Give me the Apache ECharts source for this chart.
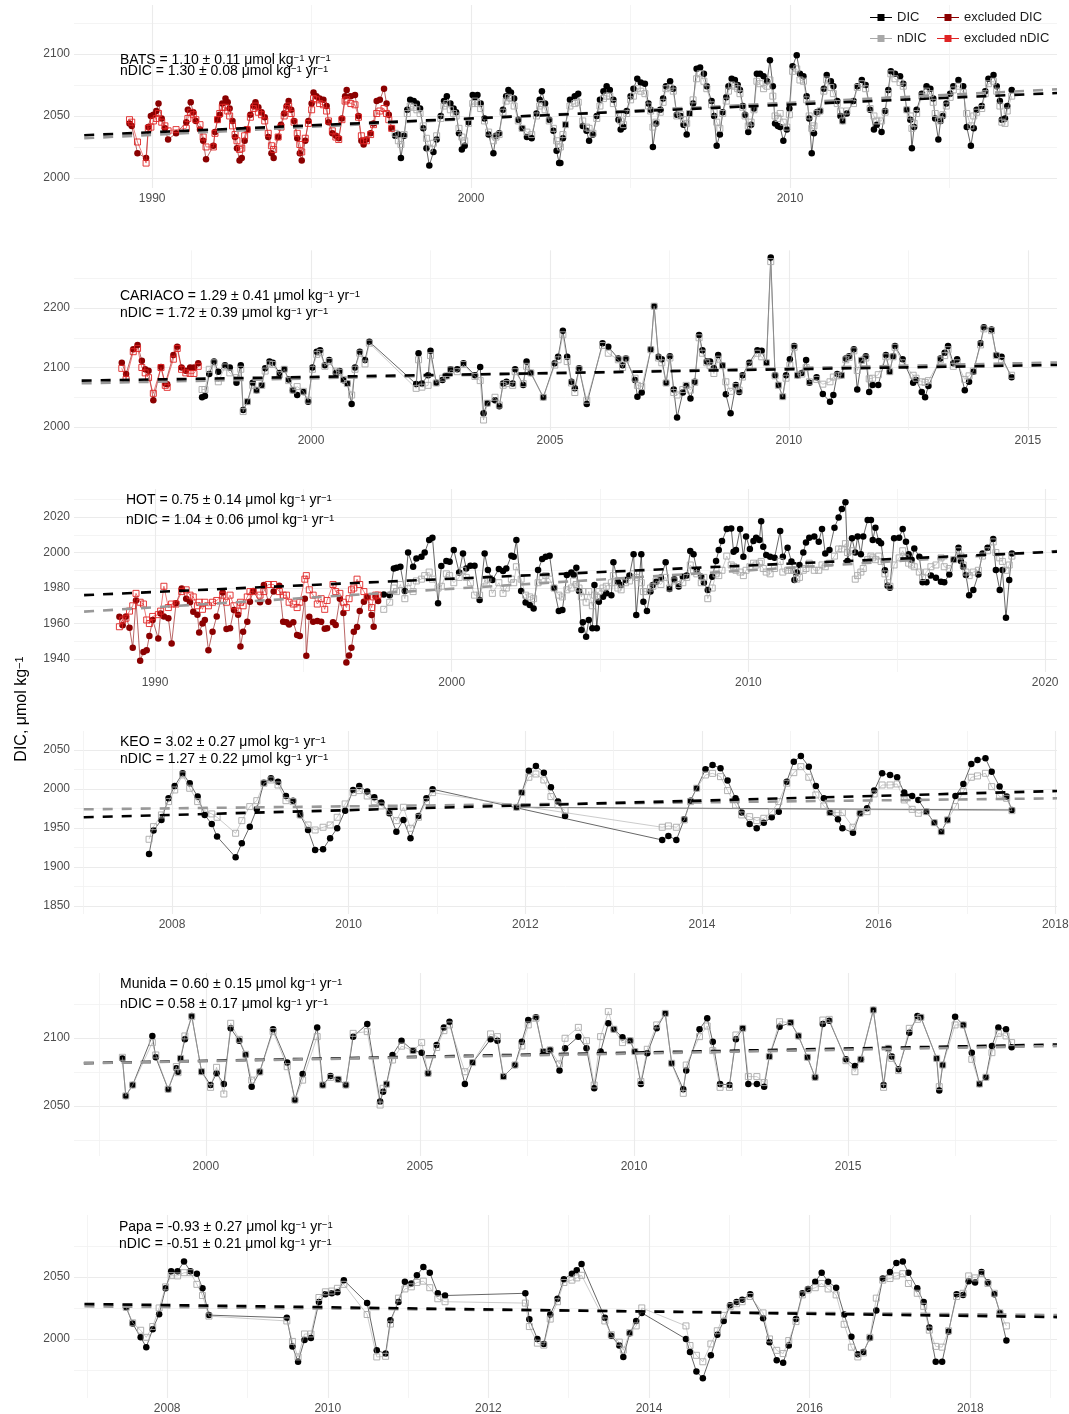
<!DOCTYPE html>
<html><head><meta charset="utf-8">
<script src="https://cdn.jsdelivr.net/npm/echarts@6/dist/echarts.min.js"></script>
<style>html,body{margin:0;padding:0;background:#fff}#c{width:1069px;height:1414px}</style>
</head><body><div id="c"></div>
<script>
// ---------- DATA: rows are [decimal year, DIC, nDIC] ----------
const batsExcluded = [
[1989.29,2044,2047],[1989.36,2042,2045],[1989.54,2020,2029],[1989.81,2016,2012],[1989.88,2041,2040],[1989.96,2050,2041],
[1990.04,2051,2046],[1990.13,2054,2048],[1990.20,2060,2052],[1990.30,2048,2045],[1990.40,2040,2042],[1990.50,2031,2038],[1990.75,2036,2039],
[1991.07,2045,2040],[1991.12,2055,2048],[1991.21,2061,2053],[1991.29,2053,2051],[1991.37,2046,2047],[1991.50,2039,2043],[1991.60,2030,2033],[1991.69,2015,2025],[1991.92,2026,2025],[1991.97,2037,2036],
[1992.05,2047,2047],[1992.12,2051,2052],[1992.20,2060,2057],[1992.30,2064,2057],[1992.37,2061,2054],[1992.43,2056,2050],[1992.52,2046,2042],[1992.60,2033,2035],[1992.66,2024,2030],[1992.74,2014,2023],[1992.81,2016,2024],[1992.90,2030,2034],[1992.98,2039,2039],
[1993.08,2051,2049],[1993.18,2058,2056],[1993.24,2061,2058],[1993.33,2057,2053],[1993.43,2053,2051],[1993.53,2049,2046],[1993.64,2033,2036],[1993.74,2020,2026],[1993.81,2016,2023],[1993.95,2033,2033],
[1994.04,2043,2041],[1994.14,2052,2050],[1994.22,2058,2056],[1994.28,2062,2058],[1994.36,2055,2052],[1994.45,2046,2045],[1994.55,2032,2036],[1994.63,2020,2027],[1994.69,2014,2021],[1994.80,2030,2032],[1994.90,2046,2044],
[1995.00,2060,2055],[1995.06,2069,2064],[1995.15,2066,2063],[1995.25,2064,2060],[1995.37,2063,2059],[1995.47,2058,2054],[1995.53,2045,2046],[1995.65,2036,2038],[1995.76,2034,2033],[1995.85,2032,2031],[1995.95,2048,2047],
[1996.05,2066,2062],[1996.10,2071,2063],[1996.23,2066,2060],[1996.36,2067,2059],[1996.47,2050,2049],[1996.56,2030,2034],[1996.63,2027,2030],[1996.72,2031,2030],[1996.85,2036,2035],[1996.94,2044,2043],
[1997.04,2062,2052],[1997.14,2063,2054],[1997.27,2072,2056],[1997.35,2060,2052],[1997.42,2051,2047],[1997.51,2040,2040]
];
const batsSeries = [
[1997.62,2034,2036],[1997.72,2035,2030],[1997.80,2016,2027],[1997.90,2034,2035],
[1998.00,2055,2052],[1998.09,2063,2058],[1998.20,2062,2057],[1998.30,2060,2055],[1998.40,2056,2052],[1998.50,2040,2042],[1998.60,2024,2032],[1998.69,2010,2024],[1998.82,2021,2028],[1998.92,2031,2034],
[1999.05,2050,2048],[1999.15,2062,2058],[1999.24,2066,2060],[1999.35,2060,2055],[1999.45,2056,2052],[1999.53,2053,2050],[1999.62,2036,2040],[1999.71,2023,2033],[1999.80,2026,2030],[1999.92,2045,2044],
[2000.05,2067,2060],[2000.12,2065,2062],[2000.20,2067,2060],[2000.30,2060,2056],[2000.42,2048,2046],[2000.55,2035,2037],[2000.70,2020,2030],[2000.78,2034,2033],[2000.88,2036,2035],
[2001.00,2055,2053],[2001.10,2066,2062],[2001.17,2071,2065],[2001.25,2069,2064],[2001.35,2064,2058],[2001.48,2047,2046],[2001.60,2040,2040],[2001.75,2033,2037],[2001.90,2032,2035],
[2002.05,2052,2050],[2002.15,2063,2058],[2002.22,2070,2060],[2002.32,2060,2055],[2002.45,2047,2046],[2002.58,2038,2040],[2002.68,2022,2030],[2002.76,2012,2027],[2002.80,2012,2025],[2002.88,2032,2035],[2002.96,2043,2043],
[2003.10,2063,2058],[2003.25,2066,2060],[2003.36,2068,2061],[2003.50,2042,2046],[2003.62,2038,2041],[2003.70,2030,2040],[2003.82,2035,2036],[2003.94,2050,2048],
[2004.04,2063,2058],[2004.15,2070,2064],[2004.25,2074,2066],[2004.35,2071,2066],[2004.46,2063,2060],[2004.62,2047,2052],[2004.69,2039,2046],[2004.78,2041,2043],[2004.88,2054,2052],
[2005.00,2066,2063],[2005.09,2072,2066],[2005.21,2080,2072],[2005.32,2077,2070],[2005.45,2076,2068],[2005.56,2060,2058],[2005.63,2055,2054],[2005.70,2025,2041],[2005.80,2044,2045],[2005.93,2055,2053],
[2006.02,2064,2061],[2006.11,2074,2072],[2006.24,2078,2073],[2006.34,2072,2070],[2006.45,2051,2050],[2006.57,2050,2051],[2006.66,2043,2047],[2006.76,2035,2044],[2006.85,2052,2052],[2006.96,2060,2063],
[2007.07,2088,2080],[2007.18,2089,2084],[2007.30,2084,2078],[2007.39,2074,2072],[2007.54,2062,2059],[2007.62,2050,2053],[2007.70,2026,2045],[2007.80,2035,2040],[2007.89,2053,2052],
[2008.00,2065,2062],[2008.07,2074,2070],[2008.17,2080,2075],[2008.27,2079,2074],[2008.36,2075,2072],[2008.43,2071,2068],[2008.52,2058,2057],[2008.59,2051,2050],[2008.69,2037,2042],[2008.78,2043,2045],[2008.87,2056,2055],[2008.96,2084,2078],
[2009.06,2084,2076],[2009.17,2082,2072],[2009.28,2078,2074],[2009.37,2095,2079],[2009.46,2074,2066],[2009.53,2044,2050],[2009.62,2042,2048],[2009.69,2041,2052],[2009.79,2030,2045],[2009.90,2039,2041],[2009.98,2056,2051],
[2010.08,2090,2086],[2010.21,2099,2088],[2010.31,2084,2079],[2010.42,2082,2078],[2010.52,2066,2063],[2010.60,2048,2050],[2010.68,2020,2040],[2010.75,2036,2042],[2010.84,2053,2052],[2010.94,2054,2054],
[2011.06,2072,2070],[2011.15,2083,2079],[2011.28,2078,2073],[2011.36,2074,2068],[2011.48,2062,2060],[2011.58,2050,2054],[2011.65,2046,2046],[2011.78,2052,2054],[2011.99,2062,2060],
[2012.11,2074,2073],[2012.25,2079,2076],[2012.37,2075,2072],[2012.51,2055,2056],[2012.63,2039,2050],[2012.72,2043,2046],[2012.87,2037,2046],[2012.98,2054,2053],
[2013.08,2071,2068],[2013.16,2086,2084],[2013.29,2084,2080],[2013.45,2082,2077],[2013.55,2076,2074],[2013.66,2055,2055],[2013.77,2047,2050],[2013.82,2024,2040],[2013.89,2041,2044],[2013.97,2055,2052],
[2014.13,2068,2066],[2014.28,2074,2070],[2014.40,2072,2068],[2014.49,2064,2061],[2014.55,2048,2052],[2014.65,2031,2046],[2014.72,2046,2047],[2014.79,2050,2051],[2014.90,2060,2058],
[2015.02,2068,2065],[2015.12,2074,2071],[2015.28,2079,2074],[2015.43,2074,2069],[2015.54,2041,2052],[2015.67,2026,2042],[2015.76,2040,2050],[2015.85,2055,2053],
[2016.01,2058,2056],[2016.12,2070,2068],[2016.22,2080,2076],[2016.38,2083,2078],[2016.48,2074,2070],[2016.58,2062,2058],[2016.64,2047,2045],[2016.74,2048,2044],[2016.81,2058,2054],[2016.95,2071,2066]
];
const batsTrend = [[1987.87,2034.5,2032],[2018.37,2068.5,2071.5]];

const cariacoExcluded = [
[1996.04,2108,2098.6],[1996.13,2089,2080],[1996.28,2130.5,2126.6],[1996.37,2137.8,2132],[1996.46,2111.5,2100],[1996.53,2097,2091],[1996.60,2094.7,2083],[1996.70,2045,2056.6],[1996.86,2101,2100],[1996.95,2073,2070],[1996.99,2072,2066.7],
[1997.12,2121,2114],[1997.20,2135,2132],[1997.29,2100,2097],[1997.38,2094.7,2091],[1997.47,2100,2090],[1997.55,2100,2090],[1997.64,2107,2102]
];
const cariacoSeries = [
[1997.72,2050,2063],[1997.78,2052,2063],[1997.87,2089,2097],[1997.97,2110,2108],[1998.06,2093,2076],[1998.20,2104,2101],[1998.30,2100,2091],[1998.44,2074.5,2083],[1998.53,2104,2097],[1998.58,2028.6,2026],[1998.67,2042.6,2042.6],[1998.78,2074.5,2070],[1998.86,2062,2062],[1998.97,2070.6,2070],
[1999.04,2098.6,2094],[1999.13,2110,2106],[1999.20,2108,2105],[1999.34,2091,2088],[1999.44,2097,2097],[1999.53,2080,2078],[1999.62,2062,2062],[1999.71,2054,2068],[1999.84,2059,2060],[1999.94,2042.6,2045],
[2000.03,2100,2097],[2000.12,2126.6,2122],[2000.19,2129,2125],[2000.29,2104,2102],[2000.38,2112.6,2110],[2000.52,2091,2094],[2000.60,2094,2092],[2000.68,2078.4,2080],[2000.76,2073,2073],[2000.85,2038.7,2053.8],[2000.92,2100,2097],
[2001.02,2126.6,2124],[2001.13,2112.6,2106],[2001.22,2143.4,2141],
[2002.20,2072.3,2065],[2002.25,2124,2113],[2002.32,2073,2067],[2002.45,2087,2070],[2002.50,2128,2120],[2002.62,2074.5,2074],[2002.75,2079,2082],[2002.84,2085.7,2086],[2002.92,2097,2096],
[2003.06,2097,2093],[2003.19,2107,2105],[2003.43,2087,2085],[2003.54,2101,2078],[2003.61,2023,2011.8],[2003.69,2040,2040],[2003.85,2045,2050],[2003.94,2035,2037],
[2004.02,2073,2070],[2004.09,2076,2073],[2004.22,2073,2070],[2004.27,2097,2093],[2004.44,2070.6,2073],[2004.51,2110,2102],[2004.60,2091,2091],[2004.86,2050,2050],
[2005.10,2107,2104],[2005.17,2118,2113],[2005.27,2162,2155],[2005.36,2118,2110],[2005.45,2076,2074],[2005.52,2065,2058],[2005.61,2098.6,2097],[2005.77,2038.7,2045],
[2006.10,2140.6,2137],[2006.22,2135,2124],[2006.43,2115,2113],[2006.52,2104,2100],[2006.59,2115,2114],[2006.78,2079,2082],[2006.83,2051,2070],[2006.92,2058,2068],
[2007.11,2130.5,2130],[2007.18,2203,2203],[2007.27,2118,2116],[2007.34,2113.7,2108],[2007.43,2074.5,2074],[2007.51,2119,2116],[2007.59,2063,2058],[2007.66,2016,2053.8],[2007.78,2058,2063],[2007.85,2069,2070],[2007.94,2048,2062],
[2008.03,2076,2075],[2008.12,2154.6,2150],[2008.19,2129,2124],[2008.28,2110,2108],[2008.35,2110,2103],[2008.43,2098.6,2090],[2008.52,2121,2114],[2008.61,2104,2103],[2008.68,2055,2076],[2008.78,2023,2060],[2008.89,2070.6,2068],[2008.96,2059,2062],
[2009.03,2087,2084],[2009.17,2108,2104],[2009.34,2129,2124],[2009.43,2128,2118],[2009.53,2108,2108],[2009.62,2285,2278],[2009.71,2087,2086],[2009.78,2070.6,2070],[2009.87,2051,2051],[2009.94,2087,2082],
[2010.02,2113.7,2104],[2010.11,2136,2134],[2010.18,2087,2087],[2010.27,2091,2089],[2010.36,2112.6,2100],[2010.43,2074.5,2076],[2010.58,2083.5,2080],[2010.71,2055.5,2072],[2010.86,2042.6,2076],[2010.93,2054,2084],
[2011.01,2089,2086],[2011.10,2087,2087],[2011.19,2115,2113],[2011.26,2119,2117],[2011.36,2130.5,2128],[2011.43,2063,2095],[2011.52,2112.6,2112],[2011.61,2119,2116],[2011.68,2059,2081],[2011.75,2070.6,2082],[2011.87,2070.6,2088],
[2012.03,2121,2118],[2012.11,2093,2093],[2012.18,2119,2118],[2012.22,2136,2134],[2012.38,2113.7,2108],[2012.60,2074.5,2087],[2012.66,2079,2082],[2012.78,2059,2076],[2012.85,2050,2075],[2012.92,2069,2078],
[2013.17,2115,2113],[2013.26,2125,2120],[2013.33,2136,2130],[2013.44,2107,2102],[2013.52,2113.7,2108],[2013.68,2062,2080],[2013.77,2076,2086],[2013.86,2093,2094],
[2014.01,2140.6,2138],[2014.08,2167.5,2165],[2014.24,2164,2162],[2014.34,2121,2120],[2014.45,2118,2112],[2014.66,2083.5,2087]
];
const cariacoTrend = [[1995.20,2078,2073.5],[2015.61,2104.3,2108.5]];

const hotExcluded = [
[1988.80,1963.8,1958.2],[1988.91,1959.0,1962],[1989.02,1964.0,1963],[1989.14,1957.6,1967],[1989.25,1946.4,1970],[1989.36,1973.0,1977],[1989.50,1939.0,1972],[1989.61,1944.0,1971],[1989.72,1945.0,1962],[1989.81,1953.0,1960],[1989.92,1962.0,1964],
[1990.11,1951.6,1965],[1990.19,1965.7,1967],[1990.30,1964.0,1981],[1990.45,1963.0,1969],[1990.56,1948.8,1971],[1990.71,1971.4,1971],[1990.90,1979.8,1978],
[1991.05,1974.0,1979],[1991.18,1972.0,1976],[1991.29,1966.7,1975],[1991.43,1965.0,1970],[1991.49,1955.0,1972],[1991.60,1960.0,1968],[1991.68,1962.0,1972],[1991.80,1945.0,1970],[1991.94,1955.4,1972],
[1992.08,1964.0,1973],[1992.28,1977.5,1976],[1992.41,1956.9,1972],[1992.53,1957.3,1976],[1992.66,1967.6,1970],[1992.80,1965.0,1967],[1992.88,1947.0,1972],[1992.97,1955.4,1970],
[1993.11,1961.0,1975],[1993.20,1972.3,1978],[1993.31,1978.3,1978],[1993.54,1972.0,1976],[1993.67,1981.7,1978],[1993.82,1972.3,1982],
[1994.00,1978.0,1982],[1994.19,1981.3,1978],[1994.32,1961.0,1976],[1994.43,1960.7,1976],[1994.52,1959.5,1972],[1994.66,1960.7,1971],[1994.79,1953.5,1969],[1994.88,1953.0,1972],
[1995.05,1974.0,1985],[1995.10,1941.9,1987],[1995.20,1963.8,1979],[1995.33,1961.0,1976],[1995.47,1961.4,1971],[1995.60,1961.0,1974],[1995.72,1957.0,1968],[1995.80,1957.3,1973],
[1996.00,1960.7,1982],[1996.09,1959.2,1978],[1996.23,1974.0,1977],[1996.35,1966.0,1972],[1996.45,1938.0,1969],[1996.54,1942.0,1974],[1996.62,1946.4,1979],[1996.70,1955.4,1980],[1996.81,1958.0,1985],[1996.90,1967.0,1982],
[1997.04,1972.3,1978],[1997.15,1975.0,1975],[1997.30,1964.8,1969],[1997.37,1958.2,1975],[1997.44,1975.1,1976],[1997.52,1972.7,1976]
];
const hotSeries = [
[1997.71,1976.4,1968],[1997.91,1976.0,1972],[1998.05,1991.0,1980],[1998.14,1991.5,1978],[1998.27,1992.0,1982],[1998.42,1978.3,1974],[1998.53,2000.0,1983],[1998.70,1992.0,1978],[1998.81,1996.7,1984],[1998.98,1997.7,1985],
[1999.09,2000.0,1987],[1999.24,2007.0,1989],[1999.35,2008.4,1985],[1999.54,1971.4,1980],[1999.65,1992.4,1981],[1999.82,1995.2,1988],[1999.93,1994.8,1987],
[2000.07,2001.4,1983],[2000.25,1988.8,1986],[2000.38,1999.5,1990],[2000.49,1991.0,1986],[2000.63,1992.6,1983],[2000.77,1992.6,1976],[2000.94,1973.2,1976],
[2001.11,1999.5,1984],[2001.22,1990.1,1985],[2001.37,1984.5,1977],[2001.59,1990.7,1983],[2001.73,1989.6,1977],[2001.84,1991.0,1980],
[2002.01,1998.2,1985],[2002.09,1997.7,1983],[2002.18,2007.0,1992],[2002.34,1978.3,1985],[2002.49,1971.9,1976],[2002.63,1970.4,1975],[2002.76,1968.5,1974],[2002.91,1990.1,1983],
[2003.05,1996.3,1985],[2003.17,1997.7,1987],[2003.30,1998.2,1985],[2003.45,1980.0,1980],[2003.61,1967.0,1976],[2003.73,1967.6,1975],[2003.88,1987.3,1979],
[2004.03,1988.8,1980],[2004.11,1987.3,1984],[2004.20,1991.5,1982],[2004.29,1978.3,1980],[2004.37,1956.3,1975],[2004.42,1960.7,1978],[2004.53,1952.6,1972],[2004.62,1962.0,1978],[2004.74,1957.3,1970],[2004.81,1981.7,1976],[2004.89,1957.3,1975],[2004.96,1972.3,1978],
[2005.10,1975.1,1980],[2005.21,1977.0,1981],[2005.38,1976.0,1983],[2005.45,1994.5,1987],[2005.60,1983.6,1980],[2005.71,1981.7,1979],[2005.86,1984.5,1983],[2005.99,1987.0,1984],
[2006.13,1999.0,1988],[2006.22,1964.8,1986],[2006.39,1999.0,1983],[2006.46,1972.3,1978],[2006.58,1967.0,1978],[2006.70,1978.0,1980],[2006.78,1981.7,1981],[2006.89,1983.6,1984],
[2007.05,1986.0,1982],[2007.21,1994.5,1986],[2007.34,1979.4,1980],[2007.50,1985.0,1984],[2007.65,1980.8,1982],[2007.79,1986.4,1983],[2007.92,1987.0,1986],
[2008.04,2000.8,1993],[2008.15,1999.0,1990],[2008.26,1990.1,1988],[2008.41,1986.4,1983],[2008.50,1983.0,1986],[2008.63,1978.9,1974],[2008.78,1986.4,1980],[2008.91,1995.2,1988],
[2009.00,2001.4,1987],[2009.11,2006.5,1990],[2009.27,2013.2,1998],[2009.42,2013.6,1993],[2009.50,2000.5,1992],[2009.58,2001.4,1990],[2009.72,2013.2,1989],[2009.83,1997.7,1987],[2009.92,2009.0,1990],
[2010.05,2002.0,1992],[2010.17,2006.5,1994],[2010.26,2008.4,1993],[2010.37,2007.0,1994],[2010.43,2017.7,1995],[2010.50,2003.3,1991],[2010.60,1998.6,1989],[2010.73,1997.7,1988],[2010.88,1997.0,1991],
[2011.07,2012.1,1995],[2011.16,1997.7,1989],[2011.32,2002.7,1990],[2011.45,1995.0,1990],[2011.55,1984.5,1990],[2011.63,1988.8,1985],[2011.72,1993.0,1986],[2011.85,2000.0,1990],[2011.94,2005.7,1991],
[2012.05,2008.4,1994],[2012.22,2009.0,1990],[2012.37,2006.1,1990],[2012.48,2013.2,1993],[2012.59,1999.5,1992],[2012.73,2001.4,1994],[2012.90,2014.0,1998],
[2013.04,2019.8,2002],[2013.15,2024.5,2002],[2013.27,2028.3,2005],[2013.34,1995.2,2000],[2013.49,2008.0,2001],[2013.60,2000.0,1985],[2013.68,2009.0,1987],[2013.79,1999.0,1989],[2013.87,2009.0,1991],
[2014.02,2018.3,1996],[2014.13,2018.3,1998],[2014.19,2007.0,1997],[2014.28,2014.0,1996],[2014.39,2006.5,1998],[2014.47,2005.2,1995],[2014.60,1990.0,1988],[2014.69,1981.3,1983],[2014.77,1980.2,1981],[2014.91,2008.0,1993],
[2015.08,2008.4,1997],[2015.20,2013.2,2001],[2015.31,2006.1,1997],[2015.40,1999.0,1994],[2015.50,1996.0,1993],[2015.59,2002.3,1992],[2015.76,1997.7,1989],[2015.87,1983.2,1986],
[2016.00,1983.2,1989],[2016.15,1987.0,1992],[2016.32,1985.8,1993],[2016.49,1983.6,1997],[2016.60,1983.2,1992],[2016.77,1987.7,1991],[2016.92,1996.0,1996],
[2017.08,2002.7,2001],[2017.16,1995.2,1998],[2017.24,1992.0,1993],[2017.33,1987.3,1989],[2017.44,1976.0,1987],[2017.58,1978.9,1989],[2017.75,1987.7,1990],[2017.89,1999.5,1998],
[2018.06,2002.7,2001],[2018.25,2007.6,2006],[2018.34,1990.1,2000],[2018.47,1978.9,1997],[2018.56,1990.1,1995],[2018.68,1963.3,1990],[2018.79,1984.5,1993],[2018.88,1999.5,1998]
];
const hotTrend = [[1987.61,1976,1966.7],[2020.40,2000.5,2000.8]];

// KEO rows are in the sampling order used by the original path
const keoSeries = [
[2007.74,1916.7,1935.5],[2007.79,1946.6,1951.7],[2007.88,1960.3,1966.7],[2007.96,1988,1983.8],[2008.03,2003.8,1998.7],[2008.12,2020,2018],[2008.20,2007.3,2000.9],[2008.29,1990.2,1983.8],[2008.37,1966.7,1972.2],[2008.45,1955,1968],[2008.51,1938.9,1963.7],
[2008.72,1912.4,1943.2],[2008.79,1930.3,1959.4],[2008.88,1951.7,1977.4],[2008.96,1974.4,1985],[2009.04,2008.1,2007.3],[2009.12,2013.7,2011.5],[2009.20,2009.4,2005.1],[2009.29,1991,1985],[2009.37,1985,1983.8],[2009.45,1966.7,1966.7],
[2009.54,1947.4,1953.8],[2009.62,1921.8,1947.4],[2009.71,1922.6,1950.9],[2009.79,1936.8,1953.8],[2009.87,1949.6,1963.7],[2009.96,1972.2,1980.8],[2010.05,1998.7,1995.3],[2010.12,2003.8,1997.9],[2010.21,1996.6,1991],[2010.29,1989.3,1983.8],
[2010.37,1982.5,1978.2],[2010.46,1968.8,1970.9],[2010.54,1945.3,1959.4],[2010.62,1960.3,1976.5],[2010.70,1936.8,1949.6],[2010.79,1965.4,1963.7],[2010.88,1988,1983.8],[2010.95,1999.6,1995.3],
[2013.55,1934.6,1950.9],[2013.62,1939.7,1952.6],[2013.71,1934.6,1950.9],[2013.80,1961.1,1960.3],[2013.87,1985,1983.8],[2013.94,2000.9,2000.9],[2014.04,2025.2,2017.9],[2014.12,2030.8,2020],[2014.21,2026.5,2015.8],[2014.29,2010.7,1997.9],
[2014.38,1988,1979.5],[2014.45,1969.7,1966.7],[2014.54,1955.1,1964.5],[2014.62,1949.6,1959.4],[2014.70,1956.8,1962.4],[2014.79,1963.7,1970.9],[2014.87,1970.9,1983.8],[2014.96,2009.4,2007.3],[2015.04,2035,2020.9],[2015.12,2042.3,2028.6],
[2015.21,2028.6,2015],[2015.29,2003.8,1992.3],[2015.38,1988,1978.2],[2015.45,1969.7,1969.7],[2015.54,1961.1,1969.7],[2015.59,1949.6,1969.7],[2015.71,1944,1950.9],[2015.79,1968.8,1968.8],[2015.87,1975.2,1970.9],[2015.95,1997.9,1993.6],
[2016.04,2020.1,2005.1],[2016.13,2017.9,2005.1],[2016.21,2015,2006.4],[2016.29,1995.3,1985.9],[2016.38,1991,1973.9],[2016.45,1985.9,1968.8],[2016.54,1970.9,1970.9],[2016.63,1956.8,1956.8],[2016.71,1945.3,1945.3],[2016.78,1960.3,1960.3],
[2016.87,1991,1977.4],[2016.96,2006.4,1996.6],[2017.05,2032.1,2015],[2017.12,2037.2,2016.7],[2017.21,2039.3,2020.1],[2017.28,2022.2,2003],[2017.37,2003,1990.2],[2017.45,1990.2,1988],[2017.51,1973.1,1972.2],
[2011.90,1976.5,1976.5],[2011.96,1995.3,1995.3],[2012.04,2023.5,2015],[2012.12,2029.5,2019.2],[2012.21,2020.9,2011.5],[2012.29,2002.1,1990.2],[2012.37,1983.8,1979.5],[2012.45,1965.4,1972.2]
];
const keoTrend = [[2007.00,1963.7,1973.9],[2018.02,1997.4,1988]];

const munidaSeries = [
[1998.05,2085,2085.8],[1998.13,2057.4,2057.4],[1998.29,2065.4,2065.4],[1998.75,2101.5,2096.6],[1998.83,2085.8,2087.5],[1999.12,2062.3,2062.3],[1999.31,2077.7,2079],[1999.35,2075.2,2074.5],[1999.41,2085,2085],[1999.51,2099,2101.5],[1999.67,2116.2,2115.7],[1999.90,2075.2,2075.2],
[2000.11,2065.4,2063.7],[2000.25,2074,2078.4],[2000.42,2066.2,2058.8],[2000.58,2107.1,2110.8],[2000.78,2098,2099],[2000.93,2087.5,2088],[2001.07,2064.2,2069],[2001.26,2075.2,2075],[2001.57,2106.4,2104.7],[2001.90,2081.9,2078.9],
[2002.08,2054.4,2054.4],[2002.26,2073.5,2069],[2002.60,2107.8,2101],[2002.73,2065.4,2065.4],[2002.91,2072.1,2071],[2003.09,2069.6,2069.6],[2003.27,2065.4,2065.4],[2003.44,2101,2103.4],[2003.77,2110.3,2104.7],
[2004.07,2053.2,2050.7],[2004.14,2060.5,2063],[2004.22,2066.2,2066],[2004.36,2087.5,2083.8],[2004.57,2098,2094],[2004.84,2090.7,2090.7],[2005.04,2089.2,2096.6],[2005.19,2074,2074],[2005.39,2094.9,2093],[2005.56,2107.8,2105.4],[2005.69,2112,2109.6],
[2006.05,2066.2,2075.2],[2006.23,2081.9,2081.9],[2006.65,2099,2103],[2006.81,2098,2101],[2006.95,2071.6,2071.6],[2007.22,2080.1,2080.1],[2007.38,2097.3,2094.1],[2007.53,2113.2,2109.6],[2007.71,2115.2,2114.5],[2007.88,2090,2090],
[2008.04,2091.2,2091.2],[2008.26,2076,2080.9],[2008.39,2092.4,2099.8],[2008.70,2101,2107.8],[2008.89,2092.4,2098],[2009.07,2063,2065.4],[2009.22,2090,2101],[2009.40,2110.8,2119.4],[2009.53,2106.4,2106.4],[2009.73,2100.5,2096.6],[2009.91,2098,2098],
[2010.02,2090,2090],[2010.16,2066.2,2068],[2010.31,2088.7,2091.7],[2010.53,2107.1,2109.6],[2010.73,2118.1,2118.1],[2010.88,2081.4,2081.4],[2011.15,2062.3,2059.3],[2011.22,2076,2080.1],[2011.53,2106.4,2101],[2011.71,2114.5,2108.8],[2011.84,2097.3,2090.7],
[2012.01,2066.2,2063.7],[2012.23,2065.4,2063.7],[2012.38,2099,2102.2],[2012.54,2107.1,2107.1],[2012.67,2066.2,2071.6],[2012.87,2066.2,2071.6],[2013.04,2064.2,2067.2],[2013.16,2086.3,2086.3],[2013.40,2108.3,2112],[2013.66,2111.3,2111.3],[2013.84,2101.5,2101.5],
[2014.05,2085.8,2085.8],[2014.23,2071.1,2071.1],[2014.41,2110.3,2113.2],[2014.56,2112.7,2113.7],[2014.95,2084.3,2083.3],[2015.16,2079.4,2075.2],[2015.30,2084.3,2084.3],[2015.59,2120.6,2120.6],[2015.83,2065.4,2063.7],[2015.94,2092.4,2092.4],
[2016.02,2086.3,2085],[2016.18,2077,2076],[2016.43,2103.9,2107.1],[2016.62,2116.2,2113.7],[2016.70,2115.2,2115.2],[2017.07,2085,2085],[2017.13,2061.3,2064.2],[2017.21,2080.1,2080.1],[2017.50,2115.7,2109.6],[2017.69,2109.6,2109.6],[2017.89,2089.2,2084.3],
[2018.07,2066.2,2066.2],[2018.22,2071.1,2071.1],[2018.36,2094.1,2089.2],[2018.51,2107.8,2103.4],[2018.69,2106.4,2101.5],[2018.82,2093.1,2096.6]
];
const munidaTrend = [[1997.15,2081.5,2081.4],[2019.88,2095.2,2094.1]];

const papaSeries = [
[2007.49,2025.5,2025.5],[2007.57,2012.4,2013],[2007.67,2001.3,2007],[2007.74,1993.4,2001.3],[2007.82,2007.9,2010],[2007.90,2020.0,2025],[2007.98,2040.8,2042],[2008.05,2054.5,2051],[2008.13,2054.5,2050.8],[2008.21,2062.4,2053.4],[2008.29,2054.5,2053.4],[2008.37,2052.6,2044],[2008.44,2040.8,2035],[2008.52,2019.2,2018.4],
[2009.49,2017.1,2014.5],[2009.56,1993.9,1998],[2009.63,1981.6,1985.5],[2009.71,1999.2,2004],[2009.79,2000.8,2004],[2009.89,2029.7,2033.4],[2009.97,2036,2038],[2010.05,2036.8,2038.6],[2010.12,2037.6,2040.8],[2010.20,2047.4,2044],
[2010.49,2028.9,2019.7],[2010.61,1990.8,1985.5],[2010.72,1988.2,1986],[2010.78,2015,2012],[2010.88,2029.7,2032.9],[2010.96,2046,2040.3],[2011.04,2044.7,2042],[2011.11,2051.3,2045.5],[2011.19,2057.9,2046.6],[2011.27,2053.4,2041.3],[2011.37,2036.8,2032.4],[2011.46,2035,2030],
[2012.46,2036.8,2028.9],[2012.51,2015.8,2010],[2012.61,2000,1996.6],[2012.69,1996,1995],[2012.77,2019.7,2016],[2012.86,2032.4,2030],[2012.94,2048.2,2045.5],[2013.04,2052.6,2047.4],[2013.10,2055.3,2049.2],[2013.16,2060.5,2051.3],
[2013.45,2017.1,2014.5],[2013.53,2002.6,2003.4],[2013.63,1994.7,1997.4],[2013.68,1985.5,1991],[2013.76,2004.5,2005],[2013.84,2014.5,2010.5],[2013.91,2021,2025],
[2014.46,2000,2010.5],[2014.51,1989.5,1994.7],[2014.59,1973.7,1986.8],[2014.67,1968.4,1981.6],[2014.77,1986.8,1996],[2014.85,2003.4,2006.6],[2014.93,2014.5,2019],[2015.01,2027.1,2026],[2015.09,2029.7,2028.4],[2015.16,2031.6,2030],[2015.26,2036,2034.2],
[2015.42,2016.6,2021],[2015.50,1997.4,2000],[2015.59,1982.9,1990.8],[2015.67,1980.8,1988.2],[2015.74,1994.7,1998.7],[2015.83,2016,2014],[2015.91,2036.8,2035.5],[2015.98,2040.3,2039.5],[2016.07,2046.1,2041.3],[2016.15,2053.4,2044.7],[2016.23,2046.1,2040.3],[2016.33,2041.3,2035.5],
[2016.43,2019.7,2011.8],[2016.52,2001.8,1993.4],[2016.60,1987.6,1985.5],[2016.67,1989.5,1988.7],[2016.75,2000.8,2001.3],[2016.83,2022.9,2032.9],[2016.91,2048.7,2047.4],[2017.00,2053.9,2048.7],[2017.08,2061.3,2050.8],[2017.16,2062.4,2052.6],[2017.23,2053.4,2044.7],[2017.34,2040.8,2036.8],
[2017.42,2029.7,2026.3],[2017.49,2009.2,2007.1],[2017.57,1981.6,1994],[2017.65,1981.6,1993.4],[2017.73,2006,2006.6],[2017.83,2036,2034.2],[2017.91,2035.5,2036.8],[2017.98,2046.6,2050.8],[2018.06,2045.5,2049.2],[2018.14,2053.9,2052.6],[2018.22,2045.5,2044.7],[2018.30,2036,2036.8],[2018.37,2021,2021],[2018.45,1998.7,2010.5]
];
const papaTrend = [[2006.97,2028.2,2026.3],[2019.08,2017.6,2019.2]];

// axis ranges / tick steps per panel (x range, x step, y range, y step)
const xRanges = [[1987.55,2018.37],[1995.04,2015.61],[1987.27,2020.40],[2006.89,2018.02],[1996.92,2019.88],[2006.84,2019.08]];
const xSteps = [10,5,10,2,5,2];
const yRanges = [[1991.9,2139.5],[1995.0,2297.0],[1932.7,2035.8],[1839.7,2074.3],[2013.2,2147.8],[1952.4,2099.9]];
const ySteps = [50,100,20,50,50,50];

const annotations = [
 ['BATS = 1.10 ± 0.11 μmol kg{s|−1} yr{s|−1}','nDIC = 1.30 ± 0.08 μmol kg{s|−1} yr{s|−1}'],
 ['CARIACO = 1.29 ± 0.41 μmol kg{s|−1} yr{s|−1}','nDIC = 1.72 ± 0.39 μmol kg{s|−1} yr{s|−1}'],
 ['HOT = 0.75 ± 0.14 μmol kg{s|−1} yr{s|−1}','nDIC = 1.04 ± 0.06 μmol kg{s|−1} yr{s|−1}'],
 ['KEO = 3.02 ± 0.27 μmol kg{s|−1} yr{s|−1}','nDIC = 1.27 ± 0.22 μmol kg{s|−1} yr{s|−1}'],
 ['Munida = 0.60 ± 0.15 μmol kg{s|−1} yr{s|−1}','nDIC = 0.58 ± 0.17 μmol kg{s|−1} yr{s|−1}'],
 ['Papa = -0.93 ± 0.27 μmol kg{s|−1} yr{s|−1}','nDIC = -0.51 ± 0.21 μmol kg{s|−1} yr{s|−1}']
];

// ---------- BUILD ----------
const FONT = '"Liberation Sans", Arial, Helvetica, sans-serif';
const panels = [
 {main: batsSeries, excl: batsExcluded, trend: batsTrend, grayTop:false},
 {main: cariacoSeries, excl: cariacoExcluded, trend: cariacoTrend, grayTop:false},
 {main: hotSeries, excl: hotExcluded, trend: hotTrend, grayTop:false},
 {main: keoSeries, excl: null, trend: keoTrend, grayTop:false},
 {main: munidaSeries, excl: null, trend: munidaTrend, grayTop:true},
 {main: papaSeries, excl: null, trend: papaTrend, grayTop:false}
];
const annotPos = [[120,60.5,71.5],[120,296.5,313],[126,500.5,520.5],[120,742.5,759],[120,984.5,1004.5],[119,1227,1244]];
const gridTops = [5, 250.3, 489, 731, 973, 1215];
const gridHeights = [183, 179.7, 183, 183, 183, 183];
const GRID_L = 74, GRID_R = 12;

const col = (rows, k) => rows.map(r => [r[0], r[k]]);
const fmt = step => v => (Math.abs(v/step - Math.round(v/step)) < 1e-6 ? String(Math.round(v)) : '');

const grids = [], xAxes = [], yAxes = [], series = [], graphics = [];
panels.forEach((p, i) => {
  grids.push({left: GRID_L, right: GRID_R, top: gridTops[i], height: gridHeights[i], containLabel:false, outerBoundsMode:'none'});
  const common = (range, step) => ({
    type:'value', gridIndex:i, min:range[0], max:range[1], minInterval:step, maxInterval:step, scale:true,
    axisLine:{show:false}, axisTick:{show:false},
    axisLabel:{formatter: fmt(step), fontSize:12, color:'#4d4d4d', fontFamily:FONT},
    splitLine:{show:true, showMinLine:false, showMaxLine:false, lineStyle:{color:'#ebebeb', width:1.1}},
    minorTick:{show:false, splitNumber:2},
    minorSplitLine:{show:true, lineStyle:{color:'#f1f1f1', width:0.8}}
  });
  const xa = common(xRanges[i], xSteps[i]); xa.axisLabel.margin = 5;
  const ya = common(yRanges[i], ySteps[i]); ya.axisLabel.margin = 4;
  xAxes.push(xa); yAxes.push(ya);
  const base = {type:'line', xAxisIndex:i, yAxisIndex:i, silent:true, animation:false, emphasis:{disabled:true}};
  series.push(Object.assign({}, base, {name:'DIC', data: col(p.main,1), symbol:'circle', symbolSize:6.5,
    itemStyle:{color:'#000'}, lineStyle:{color:'#000', width:0.6}, z:2}));
  series.push(Object.assign({}, base, {name:'nDIC', data: col(p.main,2), symbol:'rect', symbolSize:6,
    itemStyle:{color:'rgba(255,255,255,0)', borderColor:'#a8a8a8', borderWidth:0.9}, lineStyle:{color:'#a8a8a8', width:0.6}, z:3}));
  if (p.excl) {
    series.push(Object.assign({}, base, {name:'excluded DIC', data: col(p.excl,1), symbol:'circle', symbolSize:6.5,
      itemStyle:{color:'#8b0000'}, lineStyle:{color:'#8b0000', width:0.6}, z:2}));
    series.push(Object.assign({}, base, {name:'excluded nDIC', data: col(p.excl,2), symbol:'rect', symbolSize:6,
      itemStyle:{color:'rgba(255,255,255,0)', borderColor:'#e02424', borderWidth:0.9}, lineStyle:{color:'#e02424', width:0.6}, z:3}));
  }
  const tBlack = Object.assign({}, base, {name:'DIC trend', data: col(p.trend,1), symbol:'none',
    lineStyle:{color:'#000', width:2.6, type:[10,9]}, z: p.grayTop ? 4 : 5});
  const tGray = Object.assign({}, base, {name:'nDIC trend', data: col(p.trend,2), symbol:'none',
    lineStyle:{color:'#999', width:2.6, type:[10,9]}, z: p.grayTop ? 5 : 4});
  series.push(tGray, tBlack);
  const a = annotations[i], pos = annotPos[i];
  [0,1].forEach(k => graphics.push({type:'text', x:pos[0], y:pos[k+1], silent:true, z:10,
    style:{text:a[k], fill:'#000', fontSize:14, fontFamily:FONT, align:'left', verticalAlign:'middle',
      rich:{s:{fontSize:9.5, verticalAlign:'top', lineHeight:9, fill:'#000', fontFamily:FONT}}}}));
});
graphics.push({type:'text', x:22, y:709, rotation:Math.PI/2, silent:true,
  style:{text:'DIC, μmol kg{s|−1}', fill:'#000', fontSize:16, fontFamily:FONT, align:'center', verticalAlign:'middle',
    rich:{s:{fontSize:11, verticalAlign:'top', lineHeight:10, fill:'#000', fontFamily:FONT}}}});

const ICON = 'path://M0 3L22 3L22 4L0 4Z M7.5 0L14.5 0L14.5 7L7.5 7Z';
const legTxt = {fontSize:13, color:'#1a1a1a', fontFamily:FONT};
const option = {
  animation:false,
  backgroundColor:'#fff',
  grid: grids, xAxis: xAxes, yAxis: yAxes, series: series, graphic: graphics,
  legend: [
    {orient:'vertical', left:870, top:11, itemWidth:22, itemHeight:7, itemGap:8, padding:0, selectedMode:false, textStyle:legTxt,
     data:[{name:'DIC', icon:ICON, itemStyle:{color:'#000', borderWidth:0}}, {name:'nDIC', icon:ICON, itemStyle:{color:'#a8a8a8', borderWidth:0}}]},
    {orient:'vertical', left:937, top:11, itemWidth:22, itemHeight:7, itemGap:8, padding:0, selectedMode:false, textStyle:legTxt,
     data:[{name:'excluded DIC', icon:ICON, itemStyle:{color:'#8b0000', borderWidth:0}}, {name:'excluded nDIC', icon:ICON, itemStyle:{color:'#e02424', borderWidth:0}}]}
  ]
};
const chart = echarts.init(document.getElementById('c'), null, {renderer:'canvas'});
chart.setOption(option);
</script>
</body></html>
